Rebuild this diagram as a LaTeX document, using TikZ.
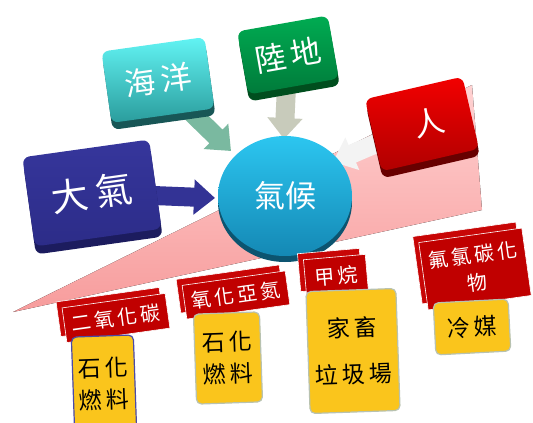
\documentclass[tikz,border=0pt]{standalone}
\usepackage{fontspec}
\newfontfamily\cjk{Noto Sans CJK TC}
\usetikzlibrary{shadows,arrows.meta,shapes.geometric}
\definecolor{atmT}{HTML}{36369C}
\definecolor{atmB}{HTML}{2C2C88}
\definecolor{atmD}{HTML}{1C1C5E}
\definecolor{oceanT}{HTML}{62F4F4}
\definecolor{oceanB}{HTML}{2A9C9C}
\definecolor{oceanD}{HTML}{185656}
\definecolor{landT}{HTML}{00AC52}
\definecolor{landB}{HTML}{007A3A}
\definecolor{landD}{HTML}{004E1E}
\definecolor{manT}{HTML}{F20000}
\definecolor{manB}{HTML}{B00000}
\definecolor{manD}{HTML}{680000}
\definecolor{climT}{HTML}{2CC6F0}
\definecolor{climB}{HTML}{1488B4}
\definecolor{climD}{HTML}{0C5470}
\definecolor{oceanA}{HTML}{7AB9A0}
\definecolor{landA}{HTML}{C8CBBB}
\definecolor{manA}{HTML}{F3F3F3}
\definecolor{atmA}{HTML}{333395}
\definecolor{pinkL}{HTML}{FFD2D2}
\definecolor{pinkD}{HTML}{F79C9C}
\definecolor{labR}{HTML}{C00000}
\definecolor{labR2}{HTML}{C80606}
\definecolor{yelC}{HTML}{FAC51C}
\definecolor{yelE}{HTML}{B8C2B0}
\definecolor{yelB}{HTML}{4A4AA8}
\begin{document}
\begin{tikzpicture}[x=1pt,y=-1pt,
  tile/.style={rounded corners=7pt, text=white, inner sep=0pt, align=center,
    font=\cjk\fontsize{31}{34}\selectfont},
  fatarrow/.style={line width=19pt, -{Triangle[width=34pt,length=21pt]}},
  redlab/.style={fill=labR, draw=white, line width=0.6pt, text=white, inner sep=2pt,
    align=center, font=\cjk\fontsize{20}{28}\selectfont,
    general shadow={fill=labR2, draw=white, line width=0.6pt, shadow xshift=-6pt, shadow yshift=6pt}},
  yel/.style={fill=yelC, draw=yelE, line width=1.2pt, rounded corners=5pt, text=black,
    align=center, inner sep=2pt, font=\cjk\fontsize{23}{27}\selectfont}
]
\useasboundingbox (0,0) rectangle (533,423);
% pink wedge
\fill[top color=pinkL, bottom color=pinkD] (13,312) -- (472,85) -- (482,210) -- cycle;
% arrow tips
\coordinate (tipO) at (231,151);
\coordinate (tipL) at (284,139);
\coordinate (tipM) at (333,162);
\coordinate (tipA) at (215,198);
% tiles (positions)
\coordinate (pO) at (158,80);
\coordinate (pL) at (288,55);
\coordinate (pM) at (422,124);
\coordinate (pA) at (92,193);
\draw[fatarrow, oceanA] (pO) -- (tipO);
\draw[fatarrow, landA] (pL) -- (tipL);
\draw[fatarrow, manA] (pM) -- (tipM);
\draw[fatarrow, atmA] (pA) -- (tipA);
% tiles
\node[tile, minimum width=104pt, minimum height=72pt, rotate=8, top color=oceanT, bottom color=oceanB,
  general shadow={fill=oceanD, shadow xshift=1pt, shadow yshift=-7pt}] (ocean) at (pO) {海\hspace{5pt}洋};
\node[tile, minimum width=92pt, minimum height=64pt, rotate=10, top color=landT, bottom color=landB,
  general shadow={fill=landD, shadow xshift=1pt, shadow yshift=-7pt}] (land) at (pL) {陸\hspace{5pt}地};
\node[tile, minimum width=100pt, minimum height=74pt, rotate=13, top color=manT, bottom color=manB,
  general shadow={fill=manD, shadow xshift=1pt, shadow yshift=-7pt}] (man) at (pM) {\hspace{14pt}人};
\node[tile, minimum width=128pt, minimum height=90pt, rotate=8, top color=atmT, bottom color=atmB,
  general shadow={fill=atmD, shadow xshift=1pt, shadow yshift=-8pt},
  font=\cjk\fontsize{37}{40}\selectfont] (atm) at (pA) {大\hspace{7pt}氣};
% climate circle
\node[ellipse, minimum width=134pt, minimum height=120pt, inner sep=0pt, top color=climT, bottom color=climB,
  general shadow={fill=climD, shadow yshift=-6pt}, text=white,
  font=\cjk\fontsize{31}{34}\selectfont] (clim) at (285,196) {氣候};
% red labels
\node[redlab, minimum width=104pt, minimum height=35pt, rotate=8] (co2) at (116,318) {二\,氧\,化\,碳};
\node[redlab, minimum width=104pt, minimum height=34pt, rotate=8] (n2o) at (236,295) {氧\,化\,亞\,氮};
\node[redlab, minimum width=62pt, minimum height=38pt, rotate=5] (ch4) at (336,276) {甲\,烷};
\node[redlab, minimum width=104pt, minimum height=68pt, rotate=8] (cfc) at (475,269) {氟\,氯\,碳\,化\\物};
% yellow boxes
\node[yel, draw=yelB, minimum width=62pt, minimum height=96pt, rotate=2] (y1) at (104,384) {石\,化\\[5pt]燃\,料};
\node[yel, minimum width=66pt, minimum height=90pt, rotate=2] (y2) at (228,358) {石\,化\\[5pt]燃\,料};
\node[yel, minimum width=90pt, minimum height=122pt, rotate=2] (y3) at (353,351) {家\,畜\\[19pt]垃\,圾\,場};
\node[yel, minimum width=75pt, minimum height=52pt, rotate=3] (y4) at (472,327) {冷\,媒};
\end{tikzpicture}
\end{document}
